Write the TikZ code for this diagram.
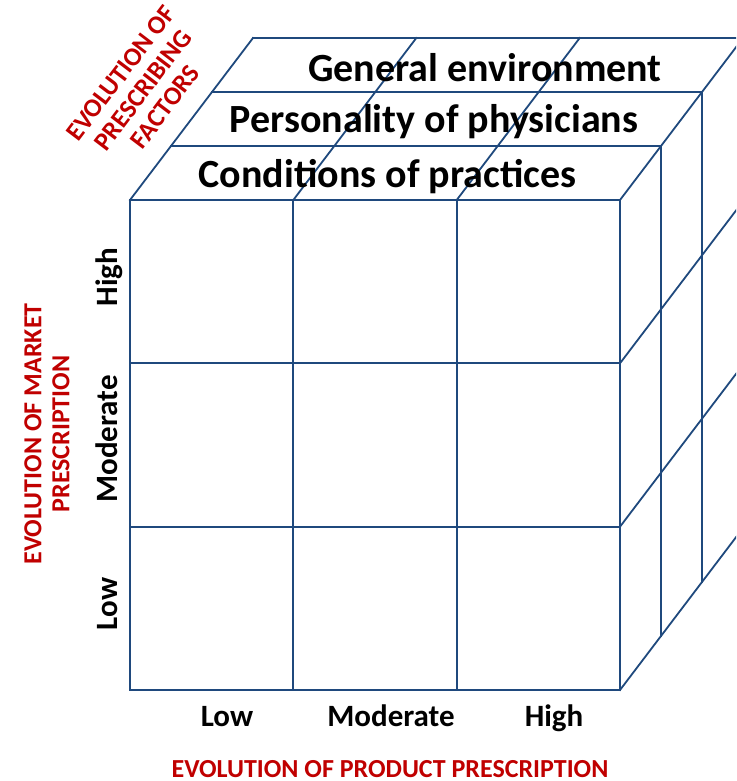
\documentclass[tikz,border=0pt]{standalone}
\usepackage{fontspec}
\setmainfont{Carlito}
\definecolor{cubeblue}{RGB}{31,73,125}
\definecolor{axisred}{RGB}{192,0,0}
\begin{document}
\begin{tikzpicture}[x=1pt,y=-1pt,
  grid/.style={draw=cubeblue,line width=1.8pt,line cap=rect},
  layertext/.style={font=\fontsize{40}{48}\selectfont\bfseries,anchor=base,inner sep=0pt},
  ticklabel/.style={font=\fontsize{31}{36}\selectfont\bfseries,anchor=base,inner sep=0pt},
  axislabel/.style={font=\fontsize{26}{28}\selectfont\bfseries,text=axisred,inner sep=0pt,align=center}]
\useasboundingbox (0,0) rectangle (736,781);
\clip (0,0) rectangle (736,781);
% front face
\coordinate (FTL) at (130,200);
\coordinate (FBR) at (620,690);
\draw[grid] (FTL) rectangle (FBR);
\foreach \x in {293.3,456.7} \draw[grid] (\x,200) -- (\x,690);
\foreach \y in {363.3,526.7} \draw[grid] (130,\y) -- (620,\y);
% top face
\foreach \k in {1,2,3} \draw[grid] (130+41*\k,200-54*\k) -- (620+41*\k,200-54*\k);
\foreach \x in {130,293.3,456.7,620} \draw[grid] (\x,200) -- (\x+123,38);
% right face
\foreach \y in {363.3,526.7,690} \draw[grid] (620,\y) -- (743,\y-162);
\foreach \k in {1,2,3} \draw[grid] (620+41*\k,200-54*\k) -- (620+41*\k,690-54*\k);
% layer texts
\node[layertext] (ge) at (485,82) {General environment};
\node[layertext] (pp) at (434,132) {Personality of physicians};
\node[layertext] (cp) at (387.5,187) {Conditions of practices};
% row labels
\node[ticklabel,rotate=90] (rh) at (117,277) {High};
\node[ticklabel,rotate=90] (rm) at (117,439) {Moderate};
\node[ticklabel,rotate=90] (rl) at (117,604) {Low};
% column labels
\node[ticklabel] (cl) at (227,726) {Low};
\node[ticklabel] (cm) at (391,726) {Moderate};
\node[ticklabel] (ch) at (554,726) {High};
% axis labels
\node[axislabel,anchor=base] (ax) at (390,777) {EVOLUTION OF PRODUCT PRESCRIPTION};
\node[axislabel,rotate=90] (ay) at (47,434) {EVOLUTION OF MARKET\\PRESCRIPTION};
\node[axislabel,rotate=52.8] (az) at (143,90) {EVOLUTION OF\\PRESCRIBING\\FACTORS};
\end{tikzpicture}
\end{document}
